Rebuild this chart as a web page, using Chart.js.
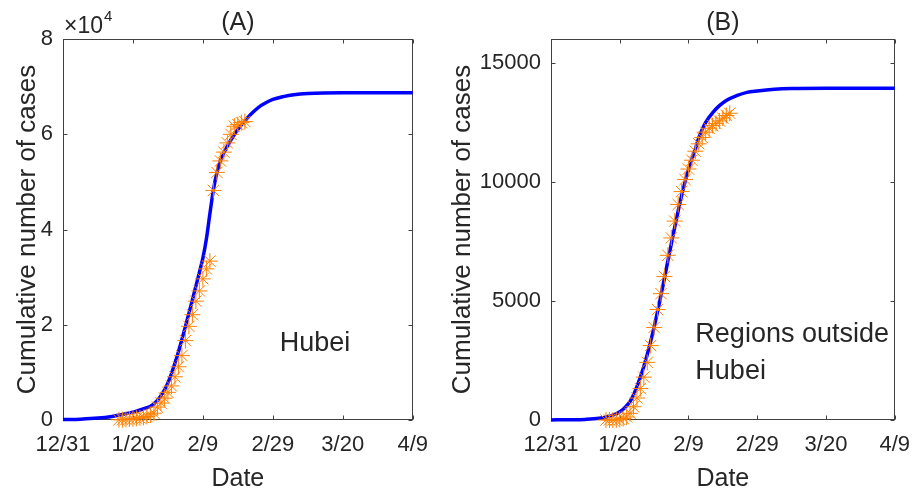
<!DOCTYPE html>
<html>
<head>
<meta charset="utf-8">
<script src="https://cdn.jsdelivr.net/npm/chart.js@4"></script>
<style>
  body { margin: 0; background: #fff; width: 922px; height: 494px; position: relative; overflow: hidden; }
  canvas { position: absolute; top: 0; }
  #chartA { left: 0; }
  #chartB { left: 440px; }
</style>
</head>
<body>
<canvas id="chartA" width="440" height="494"></canvas>
<canvas id="chartB" width="482" height="494"></canvas>
<script>
// x axis: days counted from 12/31
var tickDays = [0, 20, 40, 60, 80, 100];
var tickDates = ["12/31", "1/20", "2/9", "2/29", "3/20", "4/9"];

var yTicksA = [0, 20000, 40000, 60000, 80000];
var yTicksB = [0, 5000, 10000, 15000];

// reported cumulative cases
var obsDates = ["1/16", "1/17", "1/18", "1/19", "1/20", "1/21", "1/22", "1/23", "1/24", "1/25",
                "1/26", "1/27", "1/28", "1/29", "1/30", "1/31", "2/1", "2/2", "2/3", "2/4",
                "2/5", "2/6", "2/7", "2/8", "2/9", "2/10", "2/11", "2/12", "2/13", "2/14",
                "2/15", "2/16", "2/17", "2/18", "2/19", "2/20", "2/21"];
var hubeiCases = [45, 62, 121, 198, 270, 375, 444, 549, 729, 1052,
                  1423, 2714, 3554, 4586, 5806, 7153, 9074, 11177, 13522, 16678,
                  19665, 22112, 24953, 27100, 29631, 31728, 33366, 48206, 51986, 54406,
                  56249, 58182, 59989, 61682, 62031, 62442, 62662];
var outsideCases = [0, 0, 0, 4, 21, 65, 127, 281, 558, 923,
                    1321, 1801, 2420, 3125, 3886, 4638, 5306, 6028, 6916, 7646,
                    8353, 9049, 9593, 10098, 10540, 10910, 11287, 11598, 11865, 12086,
                    12251, 12366, 12447, 12560, 12680, 12790, 12880];

// fitted curves
var fitDaysA = [0, 5, 10, 14, 17, 20, 22, 24, 25, 26, 27, 28, 29, 30, 31, 32, 33, 34, 35, 36,
                37, 38, 39, 40, 41, 42, 43, 44, 45, 46, 47, 48, 50, 52, 54, 56, 58, 60, 63, 66,
                70, 80, 100];
var hubeiFit = [80, 180, 400, 750, 1150, 1650, 2100, 2600, 2900, 3400, 4100, 5100, 6300, 7800, 9700, 11900, 14300, 16900, 19600, 22400,
                25200, 28100, 31000, 34000, 38000, 43300, 48300, 51900, 54400, 56100, 57500, 58800, 61000, 62800, 64400, 65700, 66600, 67300, 67900, 68300,
                68550, 68700, 68700];

var fitDaysB = [0, 5, 10, 14, 17, 19, 21, 23, 24, 25, 26, 27, 28, 29, 30, 31, 32, 33, 34, 35,
                36, 37, 38, 39, 40, 41, 42, 43, 44, 45, 47, 49, 51, 54, 57, 60, 65, 70, 80, 100];
var outsideFit = [5, 10, 25, 70, 160, 260, 450, 780, 1050, 1400, 1800, 2250, 2750, 3300, 3900, 4550, 5230, 5950, 6680, 7400,
                  8100, 8780, 9420, 10000, 10520, 10970, 11380, 11850, 12200, 12500, 12900, 13200, 13420, 13620, 13760, 13820, 13890, 13920, 13930, 13930];

Chart.defaults.font.family = '"Liberation Sans", Arial, sans-serif';
Chart.defaults.color = '#262626';

function dayOf(s) {
    var p = s.split("/");
    var d = new Date(2020, p[0] - 1, +p[1]);
    return Math.round((d - new Date(2019, 11, 31)) / 86400000);
}

function points(xs, ys) {
    return xs.map(function (x, i) { return { x: x, y: ys[i] }; });
}

// box around the plot with inward tick marks, like a matlab axes
var frame = {
    id: 'frame',
    beforeDatasetsDraw: function (chart) {
        var a = chart.chartArea, ctx = chart.ctx;
        var sx = chart.scales.x, sy = chart.scales.y;
        var L = Math.round(a.left) + 0.5, R = Math.round(a.right) - 0.5;
        var T = Math.round(a.top) + 0.5, B = Math.round(a.bottom) - 0.5;
        ctx.save();
        ctx.strokeStyle = '#404040';
        ctx.lineWidth = 1;
        ctx.strokeRect(L, T, R - L, B - T);
        ctx.beginPath();
        sx.ticks.forEach(function (t) {
            var px = Math.round(sx.getPixelForValue(t.value)) + 0.5;
            ctx.moveTo(px, B); ctx.lineTo(px, B - 4);
            ctx.moveTo(px, T); ctx.lineTo(px, T + 4);
        });
        sy.ticks.forEach(function (t) {
            var py = Math.round(sy.getPixelForValue(t.value)) + 0.5;
            ctx.moveTo(L, py); ctx.lineTo(L + 4, py);
            ctx.moveTo(R, py); ctx.lineTo(R - 4, py);
        });
        ctx.stroke();
        ctx.restore();
    },
    afterDraw: function (chart, args, opts) {
        var ctx = chart.ctx, a = chart.chartArea;
        ctx.save();
        ctx.fillStyle = '#262626';
        ctx.textAlign = 'left';
        if (opts.exponent) {
            ctx.textBaseline = 'alphabetic';
            ctx.font = '23px "Liberation Sans", Arial, sans-serif';
            var x0 = a.left + 1;
            ctx.fillText('\u00d710', x0, a.top - 6);
            var w = ctx.measureText('\u00d710').width;
            ctx.font = '15px "Liberation Sans", Arial, sans-serif';
            ctx.fillText(opts.exponent, x0 + w + 1, a.top - 18);
        }
        if (opts.note) {
            var n = opts.note;
            ctx.font = '27px "Liberation Sans", Arial, sans-serif';
            ctx.textBaseline = 'middle';
            var px = chart.scales.x.getPixelForValue(n.x);
            var py = chart.scales.y.getPixelForValue(n.y);
            var top = py - (n.lines.length - 1) * n.lineHeight / 2;
            n.lines.forEach(function (line, i) {
                ctx.fillText(line, px, top + i * n.lineHeight);
            });
        }
        ctx.restore();
    }
};

function panel(id, cfg) {
    return new Chart(document.getElementById(id), {
        type: 'scatter',
        data: {
            datasets: [{
                label: 'Reported',
                data: points(obsDates.map(dayOf), cfg.obs),
                pointStyle: 'star',
                pointRadius: 8,
                borderColor: '#ff8000',
                backgroundColor: '#ff8000',
                borderWidth: 1,
                clip: false
            }, {
                label: 'Fitted',
                data: points(cfg.fitDays, cfg.fit),
                showLine: true,
                pointRadius: 0,
                borderColor: '#0000ff',
                borderWidth: 3.5,
                cubicInterpolationMode: 'monotone',
                clip: false
            }]
        },
        options: {
            responsive: false,
            animation: false,
            events: [],
            layout: { padding: { left: 0, right: cfg.padRight, top: 0, bottom: 0 } },
            plugins: {
                legend: { display: false },
                tooltip: { enabled: false },
                title: {
                    display: true,
                    fullSize: false,
                    text: cfg.title,
                    color: '#262626',
                    font: { size: 25, weight: 'normal' },
                    padding: { top: 8, bottom: 1 }
                },
                frame: { exponent: cfg.exponent, note: cfg.note }
            },
            scales: {
                x: {
                    type: 'linear',
                    min: 0,
                    max: 100,
                    grid: { display: false, drawTicks: false },
                    border: { display: false },
                    afterBuildTicks: function (s) { s.ticks = tickDays.map(function (v) { return { value: v }; }); },
                    afterFit: function (s) { s.height = 74; },
                    ticks: {
                        font: { size: 22 },
                        color: '#262626',
                        padding: 12,
                        maxRotation: 0,
                        autoSkip: false,
                        callback: function (v) { return tickDates[tickDays.indexOf(v)]; }
                    },
                    title: {
                        display: true,
                        text: 'Date',
                        color: '#262626',
                        font: { size: 25 },
                        padding: { top: 0, bottom: 0 }
                    }
                },
                y: {
                    min: 0,
                    max: cfg.yMax,
                    grid: { display: false, drawTicks: false },
                    border: { display: false },
                    afterBuildTicks: function (s) { s.ticks = cfg.yTicks.map(function (v) { return { value: v }; }); },
                    afterFit: function (s) { s.width = cfg.yWidth; },
                    ticks: {
                        font: { size: 22 },
                        color: '#262626',
                        padding: 10,
                        callback: cfg.yFormat
                    },
                    title: {
                        display: true,
                        text: 'Cumulative number of cases',
                        color: '#262626',
                        font: { size: 26 },
                        padding: { top: cfg.yTitlePad, bottom: 0 }
                    }
                }
            }
        },
        plugins: [frame]
    });
}

panel('chartA', {
    title: '(A)',
    obs: hubeiCases,
    fitDays: fitDaysA,
    fit: hubeiFit,
    yMax: 80000,
    yTicks: yTicksA,
    yFormat: function (v) { return String(v / 10000); },
    yWidth: 63,
    yTitlePad: 12,
    padRight: 26,
    exponent: '4',
    note: { x: 62, y: 16000, lines: ['Hubei'], lineHeight: 37 }
});

panel('chartB', {
    title: '(B)',
    obs: outsideCases,
    fitDays: fitDaysB,
    fit: outsideFit,
    yMax: 16000,
    yTicks: yTicksB,
    yFormat: function (v) { return String(v); },
    yWidth: 111,
    yTitlePad: 7,
    padRight: 18,
    note: { x: 42, y: 2800, lines: ['Regions outside', 'Hubei'], lineHeight: 37 }
});
</script>
</body>
</html>
